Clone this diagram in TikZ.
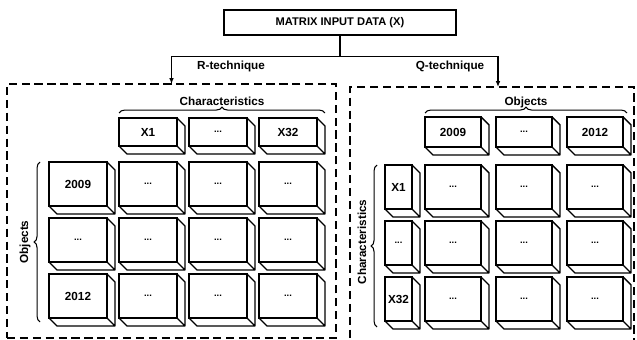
\documentclass[tikz,border=0pt]{standalone}
\usepackage{fontspec}
\setmainfont{Liberation Sans}
\usetikzlibrary{arrows.meta,calc,decorations.pathreplacing}

\newcommand\celldots{{\fontsize{8}{8}\selectfont...}}
\newcommand\boxsides[1]{%
  \draw[side] (#1.north east) -- ++(8,8) -- ($(#1.south east)+(8,8)$) -- ($(#1.south west)+(8,8)$) -- (#1.south west)
    (#1.south east) -- ++(8,8);}

\tikzset{
  cell/.style={draw, line width=1.2pt, inner sep=0pt, outer sep=0pt, anchor=north west,
    font=\fontsize{10}{12}\selectfont\bfseries},
  side/.style={line width=1.2pt, line join=round},
  panel/.style={draw, dash pattern=on 7pt off 4pt, line width=1.1pt, inner sep=0pt, outer sep=0pt},
  lbl/.style={font=\fontsize{10}{12}\selectfont\bfseries},
  brc/.style={decorate, decoration={brace, amplitude=5pt}, line width=0.9pt},
}

\begin{document}
\begin{tikzpicture}[x=0.03cm, y=-0.03cm]
  \useasboundingbox (0,0) rectangle (637,340);

  \node[draw, line width=1pt, minimum width=6.96cm, minimum height=0.75cm, inner sep=0pt,
    font=\fontsize{9.5}{11}\selectfont\bfseries] (input) at (340,22.5) {MATRIX INPUT DATA (X)};
  \node[panel, minimum width=9.87cm, minimum height=7.62cm] (rpanel) at (171.5,211) {};
  \node[panel, minimum width=8.52cm, minimum height=7.77cm] (qpanel) at (492,216.5) {};

  \coordinate (split) at ($(input.south)+(0,21)$);
  \draw[line width=1pt] (input.south) -- (split);
  \draw[line width=1pt, -{Latex[length=5pt,width=4pt]}] (split) -| (rpanel.north);
  \draw[line width=1pt, -{Latex[length=5pt,width=4pt]}] (split) -| ($(qpanel.north)+(6,0)$);
  \node[lbl] (rtech) at (231,66) {R-technique};
  \node[lbl] (qtech) at (450,66) {Q-technique};

  % R-technique
  \foreach \col/\t in {1/X1,2/\celldots,3/X32} {
    \node[cell, minimum width=1.74cm, minimum height=0.84cm] (LH\col) at ({49+70*\col},118) {\t};
    \boxsides{LH\col}
  }
  \foreach \row/\t in {0/2009,1/\celldots,2/2012} {
    \node[cell, minimum width=1.74cm, minimum height=1.32cm] (L\row0) at (49,{162+56*\row}) {\t};
    \boxsides{L\row0}
    \foreach \col in {1,2,3} {
      \node[cell, minimum width=1.74cm, minimum height=1.32cm] (L\row\col) at ({49+70*\col},{162+56*\row}) {\celldots};
      \boxsides{L\row\col}
    }
  }
  \draw[brc] (119,113) -- (325,113);
  \node[lbl] (rchar) at (222,101) {Characteristics};
  \draw[brc] (40,322) -- (40,162);
  \node[lbl, rotate=90] (robj) at (25,242) {Objects};

  % Q-technique
  \foreach \col/\t in {1/2009,2/\celldots,3/2012} {
    \node[cell, minimum width=1.68cm, minimum height=0.9cm] (QH\col) at ({354+71*\col},117) {\t};
    \boxsides{QH\col}
  }
  \foreach \row/\t in {0/X1,1/\celldots,2/X32} {
    \node[cell, minimum width=0.81cm, minimum height=1.32cm] (Q\row0) at (385,{165+56*\row}) {\t};
    \boxsides{Q\row0}
    \foreach \col in {1,2,3} {
      \node[cell, minimum width=1.68cm, minimum height=1.32cm] (Q\row\col) at ({354+71*\col},{165+56*\row}) {\celldots};
      \boxsides{Q\row\col}
    }
  }
  \draw[brc] (425,113) -- (627,113);
  \node[lbl] (qobj) at (526,102) {Objects};
  \draw[brc] (377,327) -- (377,165);
  \node[lbl, rotate=90] (qchar) at (362,242) {Characteristics};
\end{tikzpicture}
\end{document}
